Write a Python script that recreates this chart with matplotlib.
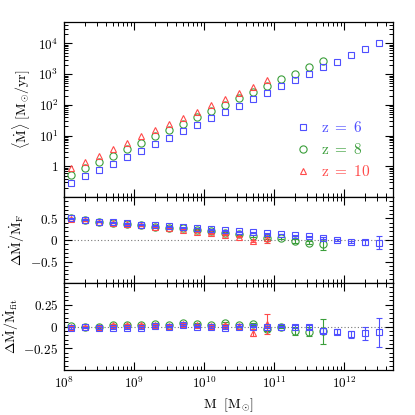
import numpy as np
import matplotlib
matplotlib.use("Agg")
import matplotlib.pyplot as plt
from matplotlib.ticker import FixedLocator, MultipleLocator, FuncFormatter, LogLocator, NullFormatter

plt.rcParams['mathtext.fontset'] = 'cm'
plt.rcParams['font.family'] = ['DejaVu Serif']

# ---- data ----
logM_z6 = [8.1, 8.3, 8.5, 8.7, 8.9, 9.1, 9.3, 9.5, 9.7, 9.9, 10.1, 10.3, 10.5, 10.7, 10.9,
           11.1, 11.3, 11.5, 11.7, 11.9, 12.1, 12.3, 12.5]
logM_z8 = [8.1, 8.3, 8.5, 8.7, 8.9, 9.1, 9.3, 9.5, 9.7, 9.9, 10.1, 10.3, 10.5, 10.7, 10.9,
           11.1, 11.3, 11.5, 11.7]
logM_z10 = [8.1, 8.3, 8.5, 8.7, 8.9, 9.1, 9.3, 9.5, 9.7, 9.9, 10.1, 10.3, 10.5, 10.7, 10.9]

# log10 <Mdot>
logMdot_z6 = [-0.55, -0.33, -0.13, 0.09, 0.29, 0.51, 0.72, 0.93, 1.14, 1.33, 1.56, 1.76, 1.98,
              2.18, 2.40, 2.60, 2.81, 3.02, 3.22, 3.41, 3.61, 3.82, 4.03]
logMdot_z8 = [-0.28, -0.07, 0.14, 0.35, 0.56, 0.76, 0.98, 1.18, 1.39, 1.60, 1.81, 2.01, 2.22,
              2.43, 2.62, 2.83, 3.02, 3.23, 3.42]
logMdot_z10 = [-0.06, 0.15, 0.35, 0.56, 0.77, 0.98, 1.18, 1.37, 1.58, 1.78, 1.99, 2.19, 2.40,
               2.58, 2.80]

# residual w.r.t. F
dF_z6 = [0.50, 0.47, 0.43, 0.41, 0.39, 0.36, 0.34, 0.32, 0.30, 0.28, 0.25, 0.23, 0.20, 0.18,
         0.16, 0.14, 0.11, 0.09, 0.05, 0.00, -0.04, -0.05, -0.06]
dF_z6_err = [0.01, 0.01, 0.01, 0.01, 0.01, 0.01, 0.01, 0.01, 0.01, 0.01, 0.01, 0.01, 0.01, 0.01,
             0.01, 0.01, 0.01, 0.01, 0.02, 0.015, 0.02, 0.06, 0.16]
dF_z8 = [0.50, 0.46, 0.42, 0.40, 0.37, 0.34, 0.31, 0.28, 0.27, 0.24, 0.21, 0.17, 0.13, 0.09,
         0.05, 0.04, -0.02, -0.06, -0.10]
dF_z8_err = [0.01, 0.01, 0.01, 0.01, 0.01, 0.01, 0.01, 0.01, 0.01, 0.01, 0.01, 0.01, 0.01, 0.015,
             0.02, 0.02, 0.05, 0.03, 0.13]
dF_z10 = [0.49, 0.46, 0.42, 0.40, 0.37, 0.34, 0.30, 0.27, 0.24, 0.19, 0.16, 0.12, 0.08, -0.02, 0.04]
dF_z10_err = [0.01, 0.01, 0.01, 0.01, 0.01, 0.01, 0.01, 0.01, 0.01, 0.01, 0.01, 0.01, 0.015,
              0.03, 0.10]

# residual w.r.t. fit
dfit_z6 = [-0.015, -0.01, -0.02, -0.02, -0.02, -0.02, 0.01, 0.0, 0.02, 0.0, -0.005, -0.015,
           0.0, 0.0, -0.005, 0.0, 0.0, -0.005, -0.05, -0.06, -0.09, -0.075, -0.065]
dfit_z6_err = [0.01, 0.01, 0.01, 0.01, 0.01, 0.01, 0.01, 0.01, 0.01, 0.01, 0.01, 0.01, 0.01, 0.01,
               0.01, 0.01, 0.015, 0.02, 0.03, 0.03, 0.04, 0.075, 0.165]
dfit_z8 = [0.01, 0.0, -0.01, 0.02, 0.02, 0.02, 0.025, 0.02, 0.035, 0.03, 0.02, 0.04, 0.02, 0.03,
           -0.03, 0.0, -0.05, -0.06, -0.055]
dfit_z8_err = [0.01, 0.01, 0.01, 0.01, 0.01, 0.01, 0.01, 0.01, 0.01, 0.01, 0.01, 0.01, 0.01, 0.01,
               0.02, 0.015, 0.05, 0.05, 0.145]
dfit_z10 = [0.0, 0.0, 0.0, 0.02, 0.02, 0.02, 0.02, 0.01, 0.03, 0.02, 0.01, 0.02, 0.01, -0.07, 0.03]
dfit_z10_err = [0.01, 0.01, 0.01, 0.01, 0.01, 0.01, 0.01, 0.01, 0.01, 0.01, 0.01, 0.01, 0.015,
                0.04, 0.115]

labels = [r'${\rm z\ =\ 6}$', r'${\rm z\ =\ 8}$', r'${\rm z\ =\ 10}$']
colors = ['#4f4fff', '#3a9e3a', '#ff4a4a']
markers = ['s', 'o', '^']
msizes = [4.0, 5.2, 4.6]
zorders = [5, 3, 4]

series = [
    (logM_z6, logMdot_z6, dF_z6, dF_z6_err, dfit_z6, dfit_z6_err),
    (logM_z8, logMdot_z8, dF_z8, dF_z8_err, dfit_z8, dfit_z8_err),
    (logM_z10, logMdot_z10, dF_z10, dF_z10_err, dfit_z10, dfit_z10_err),
]

W = H = 415
fig = plt.figure(figsize=(W / 100, H / 100), dpi=100)
L, R = 64 / W, 393 / W
def ypos(top, bot):
    return [L, 1 - bot / H, R - L, (bot - top) / H]

ax1 = fig.add_axes(ypos(22, 197))
ax2 = fig.add_axes(ypos(197, 283), sharex=ax1)
ax3 = fig.add_axes(ypos(283, 370), sharex=ax1)

for (lm, lmd, dF, dFe, dfit, dfite), lab, c, mk, ms, zo in zip(series, labels, colors, markers, msizes, zorders):
    M = 10 ** np.array(lm)
    ax1.plot(M, 10 ** np.array(lmd), ls='none', marker=mk, ms=ms, mfc='none', mec=c,
             mew=0.8, label=lab, zorder=zo)
    ax2.errorbar(M, dF, yerr=dFe, ls='none', marker=mk, ms=ms, mfc='none', mec=c, mew=0.8,
                 ecolor=c, elinewidth=0.8, capsize=2.5, capthick=0.8, zorder=zo)
    ax3.errorbar(M, dfit, yerr=dfite, ls='none', marker=mk, ms=ms, mfc='none', mec=c, mew=0.8,
                 ecolor=c, elinewidth=0.8, capsize=2.5, capthick=0.8, zorder=zo)

ax1.set_xscale('log')
ax1.set_yscale('log')
ax1.set_xlim(1e8, 10 ** 12.7)
ax1.set_ylim(0.1, 10 ** 4.7)
ax2.set_ylim(-1, 1)
ax3.set_ylim(-0.5, 0.5)

for ax in (ax2, ax3):
    ax.axhline(0, color='#777777', ls=(0, (1, 2)), lw=0.8, zorder=1)

def logfmt(v, p):
    e = int(round(np.log10(v)))
    return r'$1$' if e == 0 else r'$10^{%d}$' % e

def linfmt(v, p):
    if abs(v) < 1e-9:
        return r'$0$'
    return r'$%g$' % v

ax1.yaxis.set_major_locator(FixedLocator([1, 10, 100, 1000, 1e4]))
ax1.yaxis.set_minor_locator(LogLocator(base=10, subs=np.arange(2, 10)))
ax1.yaxis.set_major_formatter(FuncFormatter(logfmt))
ax1.yaxis.set_minor_formatter(NullFormatter())

ax1.xaxis.set_major_locator(FixedLocator([1e8, 1e9, 1e10, 1e11, 1e12]))
ax1.xaxis.set_minor_locator(LogLocator(base=10, subs=np.arange(2, 10)))
ax3.xaxis.set_major_formatter(FuncFormatter(logfmt))
ax3.xaxis.set_minor_formatter(NullFormatter())

ax2.yaxis.set_major_locator(FixedLocator([-0.5, 0, 0.5]))
ax2.yaxis.set_minor_locator(MultipleLocator(0.1))
ax2.yaxis.set_major_formatter(FuncFormatter(linfmt))
ax3.yaxis.set_major_locator(FixedLocator([-0.25, 0, 0.25]))
ax3.yaxis.set_minor_locator(MultipleLocator(0.05))
ax3.yaxis.set_major_formatter(FuncFormatter(linfmt))

for ax in (ax1, ax2, ax3):
    ax.tick_params(which='both', direction='in', top=True, right=True, labelsize=9.5, pad=4)
    ax.tick_params(which='major', length=6, width=0.8)
    ax.tick_params(which='minor', length=3.2, width=0.7)
    for s in ax.spines.values():
        s.set_linewidth(0.9)
for ax in (ax1, ax2):
    plt.setp(ax.get_xticklabels(), visible=False)

ax1.set_ylabel(r'$\langle\dot{\rm M}\rangle\ [{\rm M}_{\odot}/{\rm yr}]$', fontsize=10, labelpad=4)
ax2.set_ylabel(r'$\Delta\dot{\rm M}/\dot{\rm M}_{\rm F}$', fontsize=10, labelpad=2)
ax3.set_ylabel(r'$\Delta\dot{\rm M}/\dot{\rm M}_{\rm fit}$', fontsize=10, labelpad=2)
ax3.set_xlabel(r'${\rm M}\ \ [{\rm M}_{\odot}]$', fontsize=10, labelpad=4)
fig.align_ylabels([ax1, ax2, ax3])

leg = ax1.legend(loc='lower right', bbox_to_anchor=(0.955, 0.06), frameon=False, fontsize=11,
                 handletextpad=0.6, labelspacing=0.45, handlelength=1.2,
                 labelcolor=colors, borderpad=0)

fig.savefig('out.png', dpi=100)
